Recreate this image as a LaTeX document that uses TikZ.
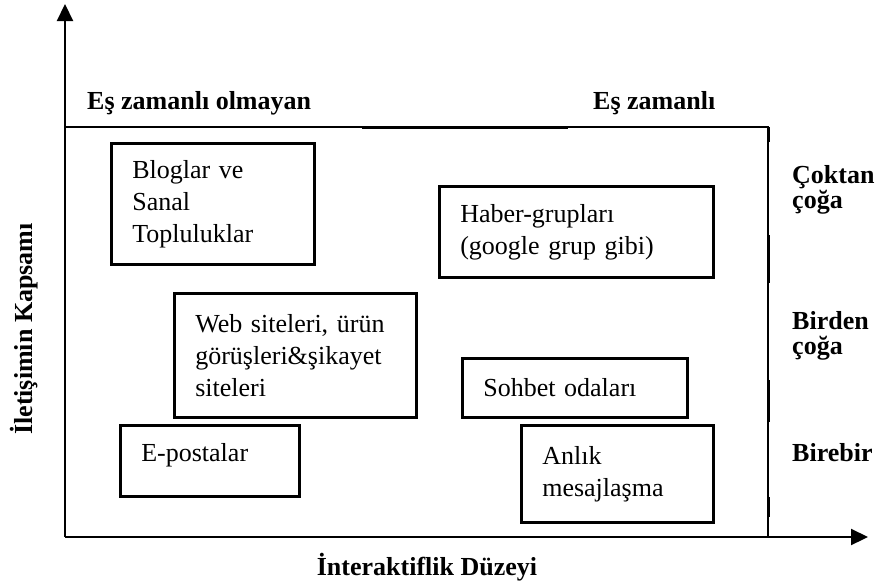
\documentclass[tikz,border=0pt]{standalone}
\usepackage{fontspec}
\setmainfont{Liberation Serif}
\usetikzlibrary{arrows.meta}
\begin{document}
\begin{tikzpicture}[x=1pt,y=-1pt,
  axis/.style={line width=2.2pt,-{Triangle[length=17pt,width=16pt]}},
  frame/.style={line width=1.4pt},
  thickseg/.style={line width=3pt},
  box/.style={draw,line width=2.6pt,anchor=north west,align=left,inner xsep=21pt,inner ysep=0pt,font=\fontsize{26}{32}\selectfont},
  lbl/.style={font=\fontsize{26}{25}\selectfont\bfseries,align=left,inner sep=0pt}]
\useasboundingbox (0,0) rectangle (876,582);
% axes
\coordinate (O) at (65,537);
\coordinate (ytip) at (65,4);
\coordinate (xtip) at (868,537);
\draw[axis] (O) -- (ytip);
\draw[axis] (O) -- (xtip);
% frame
\coordinate (fl) at (65,127);
\coordinate (fr) at (768,127);
\coordinate (fb) at (768,537);
\draw[frame] (fl) -- (fr) -- (fb);
\draw[thickseg] (362,127) -- (568,127);
\draw[thickseg] (768,127) -- (768,142);
\draw[thickseg] (768,235) -- (768,283);
\draw[thickseg] (768,380) -- (768,422);
\draw[thickseg] (768,497) -- (768,517);
% boxes
\node[box,minimum width=203pt,minimum height=121pt,text width=161pt] (blog) at (110,142) {Bloglar ve\\Sanal\\Topluluklar};
\node[box,minimum width=274pt,minimum height=91pt,text width=232pt] (haber) at (438,185) {Haber-grupları\\(google grup gibi)};
\node[box,minimum width=242pt,minimum height=124pt,text width=200pt] (web) at (173,292) {Web siteleri, ürün\\görüşleri\&şikayet\\siteleri};
\node[box,minimum width=179pt,minimum height=71pt,text width=137pt] (eposta) at (119,424) {\raisebox{6pt}[\height][\depth]{E-postalar}};
\node[box,minimum width=225pt,minimum height=59pt,text width=183pt] (sohbet) at (461,357) {Sohbet odaları};
\node[box,minimum width=192pt,minimum height=97pt,text width=150pt] (anlik) at (520,424) {Anlık\\mesajlaşma};
% labels
\node[lbl,anchor=west] (async) at (87,103) {Eş zamanlı olmayan};
\node[lbl,anchor=west] (sync) at (593,103) {Eş zamanlı};
\node[lbl,anchor=west] (many) at (792,190) {Çoktan\\çoğa};
\node[lbl,anchor=west] (onemany) at (792,336) {Birden\\çoğa};
\node[lbl,anchor=west] (one) at (792,453) {Birebir};
\node[lbl,rotate=90] (ylab) at (24,329) {İletişimin Kapsamı};
\node[lbl] (xlab) at (427,567) {İnteraktiflik Düzeyi};
\end{tikzpicture}
\end{document}
